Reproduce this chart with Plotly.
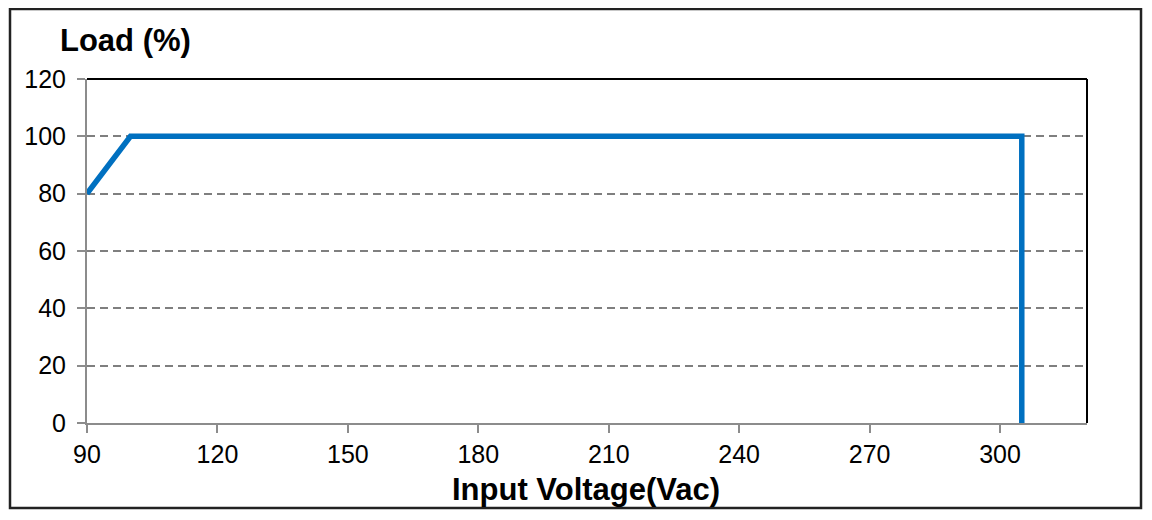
import plotly.graph_objects as go

# Data
voltage = [90, 100, 305, 305]
load = [80, 100, 100, 0]
x_ticks = [90, 120, 150, 180, 210, 240, 270, 300]
y_ticks = [0, 20, 40, 60, 80, 100, 120]
x_title = "Input Voltage(Vac)"
y_title = "Load (%)"

FONT = "Liberation Sans, Arial, sans-serif"

fig = go.Figure()
fig.add_trace(go.Scatter(
    x=voltage, y=load, mode="lines",
    line=dict(color="#0070C0", width=5.5),
    cliponaxis=False, hoverinfo="skip", showlegend=False,
))

fig.update_layout(
    width=1144, height=512,
    margin=dict(l=79, r=65, t=71, b=97),
    paper_bgcolor="white", plot_bgcolor="white",
    font=dict(family=FONT, size=25, color="black"),
    xaxis=dict(
        range=[90, 320], tickvals=x_ticks, ticktext=[str(v) for v in x_ticks],
        showgrid=False, zeroline=False,
        showline=True, linecolor="#8c8c8c", linewidth=2,
        ticks="outside", ticklen=8, tickwidth=2, tickcolor="#8c8c8c",
        tickfont=dict(size=25, family=FONT, color="black"),
    ),
    yaxis=dict(
        range=[0, 120], tickvals=y_ticks, ticktext=[str(v) for v in y_ticks],
        showgrid=True, gridcolor="#7f7f7f", gridwidth=2, griddash="8px,5px",
        zeroline=False,
        showline=True, linecolor="#8c8c8c", linewidth=2,
        ticks="outside", ticklen=8, tickwidth=2, tickcolor="#8c8c8c",
        ticklabelstandoff=6,
        tickfont=dict(size=25, family=FONT, color="black"),
    ),
    shapes=[
        # plot area top and right border
        dict(type="line", xref="paper", yref="paper", x0=0, x1=1, y0=1, y1=1,
             line=dict(color="black", width=2), layer="above"),
        dict(type="line", xref="paper", yref="paper", x0=1, x1=1, y0=0, y1=1,
             line=dict(color="black", width=2), layer="above"),
        # outer frame
        dict(type="rect", xref="paper", yref="paper",
             x0=-0.077, x1=1.054, y0=-0.247, y1=1.2035,
             line=dict(color="#222222", width=2.5), layer="above"),
    ],
    annotations=[
        dict(text=y_title, xref="paper", yref="paper", x=-0.029, y=1.113,
             xanchor="left", yanchor="middle", showarrow=False,
             font=dict(size=31, family=FONT, color="black", weight="bold")),
        dict(text=x_title, xref="paper", yref="paper", x=0.499, y=-0.192,
             xanchor="center", yanchor="middle", showarrow=False,
             font=dict(size=31, family=FONT, color="black", weight="bold")),
    ],
)

fig.write_html("out.html")
